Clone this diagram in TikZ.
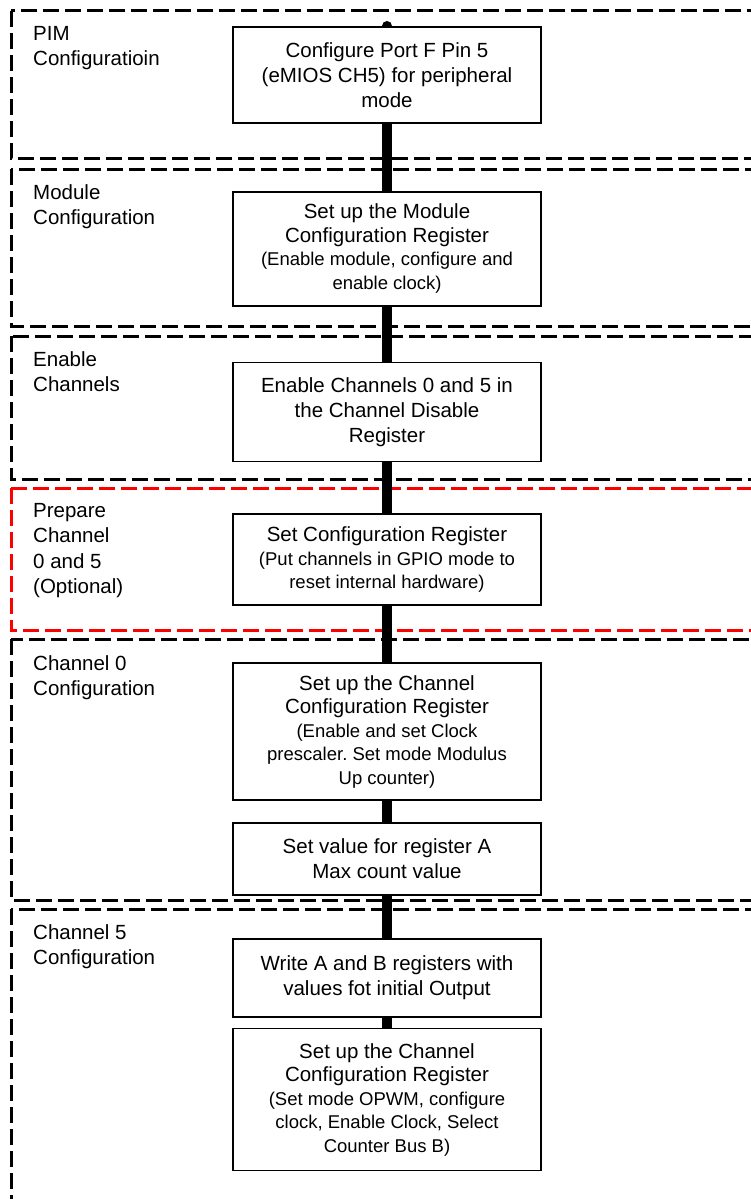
\documentclass[tikz,border=0pt]{standalone}
\usepackage{fontspec}
\setmainfont{Liberation Sans}
\usetikzlibrary{positioning,backgrounds}
\frenchspacing

\newcommand{\detail}{\fontsize{18.5}{21.5}\selectfont}

\begin{document}
\begin{tikzpicture}[x=1pt, y=-1pt,
  zone/.style={dash pattern=on 16pt off 6pt, line width=3pt},
  zonered/.style={zone, draw=red},
  lbl/.style={anchor=north west, inner sep=0pt, align=left,
              font=\fontsize{20.5}{25.5}\selectfont},
  bx/.style={draw, line width=1.8pt, fill=white, align=center, inner sep=2pt,
             minimum width=308pt, font=\fontsize{20.5}{25}\selectfont},
  bxmix/.style={bx, font=\fontsize{20.5}{23.5}\selectfont},
  flow/.style={line width=10pt, line cap=round}]
\useasboundingbox (0,0) rectangle (751,1199);

% steps
\node[bx, minimum height=96pt, anchor=north] (port) at (387,26)
  {Configure Port F Pin 5\\(eMIOS CH5) for peripheral\\mode};
\node[bxmix, minimum height=114pt, below=67pt of port] (modcr)
  {Set up the Module\\Configuration Register\\
   \detail(Enable module, configure and\\\detail enable clock)};
\node[bx, minimum height=99pt, below=55pt of modcr] (chdis)
  {Enable Channels 0 and 5 in\\the Channel Disable\\Register};
\node[bxmix, minimum height=91pt, below=51pt of chdis] (gpio)
  {Set Configuration Register\\
   \detail(Put channels in GPIO mode to\\\detail reset internal hardware)};
\node[bxmix, minimum height=137pt, below=56pt of gpio] (ccrzero)
  {Set up the Channel\\Configuration Register\\
   \detail(Enable and set Clock\\\detail prescaler. Set mode Modulus\\\detail Up counter)};
\node[bx, minimum height=72pt, below=21pt of ccrzero] (rega)
  {Set value for register A\\Max count value};
\node[bx, minimum height=78pt, below=42pt of rega] (regab)
  {Write A and B registers with\\values fot initial Output};
\node[bxmix, minimum height=142pt, below=10pt of regab] (ccrfive)
  {Set up the Channel\\Configuration Register\\
   \detail(Set mode OPWM, configure\\\detail clock, Enable Clock, Select\\\detail Counter Bus B)};

% section labels
\node[lbl] (lpim) at (33,26) {PIM\\Configuratioin};
\node[lbl] (lmod) at (33,184) {Module\\Configuration};
\node[lbl] (lena) at (33,351) {Enable\\Channels};
\node[lbl] (lprep) at (33,503) {Prepare\\Channel\\0 and 5\\(Optional)};
\node[lbl] (lzero) at (33,655) {Channel 0\\Configuration};
\node[lbl] (lfive) at (33,924) {Channel 5\\Configuration};

\begin{pgfonlayer}{background}
% dashed sections
\draw[zone] (11,11) rectangle (790,158);
\draw[zone] (11,169) rectangle (790,326);
\draw[zone] (11,336) rectangle (790,479);
\draw[zonered] (11,488) rectangle (790,630);
\draw[zone] (11,639) rectangle (790,900);
\draw[zone] (11,909) rectangle (790,1220);
% backbone
\draw[flow] (port.north) -- (ccrfive.north);
\end{pgfonlayer}
\end{tikzpicture}
\end{document}
